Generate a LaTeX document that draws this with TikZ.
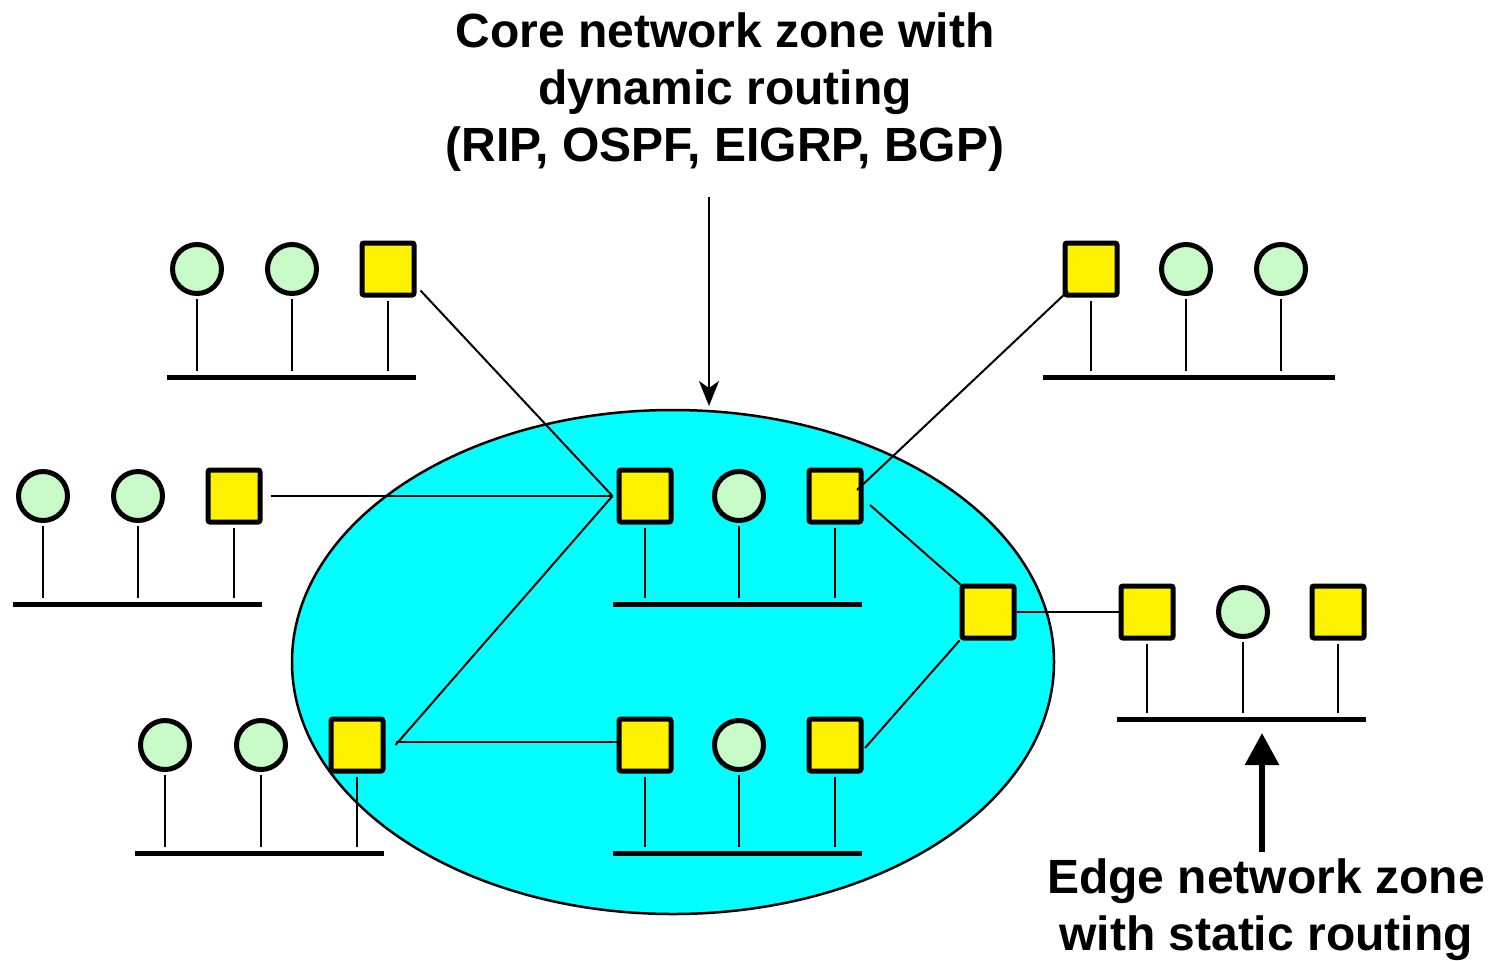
\documentclass[tikz,border=0pt]{standalone}
\usepackage{fontspec}
\setmainfont{Liberation Sans}
\usetikzlibrary{arrows.meta}
\definecolor{hostgreen}{RGB}{200,250,200}
\definecolor{zonecyan}{RGB}{0,255,255}
\begin{document}
\begin{tikzpicture}[x=0.5pt,y=-0.5pt,
  host/.style={circle,draw,line width=2.5pt,fill=hostgreen,minimum size=24.5pt,inner sep=0pt},
  router/.style={rectangle,draw,line width=2.5pt,fill=yellow,minimum size=26pt,inner sep=0pt,rounded corners=1pt},
  stem/.style={line width=1pt},
  bus/.style={line width=2.5pt},
  link/.style={line width=1pt},
  lbl/.style={font=\bfseries\fontsize{24}{28.5}\selectfont,align=center,inner sep=0pt}]
\useasboundingbox (0,0) rectangle (1494,960);
\clip (0,0) rectangle (1494,960);

% core zone
\draw[line width=1.25pt,fill=zonecyan] (673,662) ellipse [x radius=381, y radius=252];

% bus segments
\draw[bus] (167,377) coordinate (tlbus) -- (416,377);
\draw[bus] (1043,377) coordinate (trbus) -- (1335,377);
\draw[bus] (13,604) coordinate (mlbus) -- (262,604);
\draw[bus] (613,604) coordinate (ctbus) -- (862,604);
\draw[bus] (1117,719) coordinate (erbus) -- (1366,719);
\draw[bus] (135,853) coordinate (blbus) -- (384,853);
\draw[bus] (613,853) coordinate (cbbus) -- (862,853);

% stations: top left
\node[host]   (tlh1) at (197,269) {};
\node[host]   (tlh2) at (292,269) {};
\node[router] (tlr)  at (388,269) {};
% top right
\node[router] (trr)  at (1091,269) {};
\node[host]   (trh1) at (1186,269) {};
\node[host]   (trh2) at (1281,269) {};
% middle left
\node[host]   (mlh1) at (43,496) {};
\node[host]   (mlh2) at (138,496) {};
\node[router] (mlr)  at (234,496) {};
% core, upper segment
\node[router] (ctr1) at (645,496) {};
\node[host]   (cth)  at (739,496) {};
\node[router] (ctr2) at (835,496) {};
% core, right router
\node[router] (crr)  at (988,612) {};
% right edge segment
\node[router] (err1) at (1147,612) {};
\node[host]   (erh)  at (1243,612) {};
\node[router] (err2) at (1338,612) {};
% bottom left
\node[host]   (blh1) at (165,745) {};
\node[host]   (blh2) at (261,745) {};
\node[router] (blr)  at (357,745) {};
% core, lower segment
\node[router] (cbr1) at (645,745) {};
\node[host]   (cbh)  at (739,745) {};
\node[router] (cbr2) at (835,745) {};

% drops to the bus
\foreach \n/\b in {tlh1/tlbus,tlh2/tlbus,tlr/tlbus,
                   trr/trbus,trh1/trbus,trh2/trbus,
                   mlh1/mlbus,mlh2/mlbus,mlr/mlbus,
                   ctr1/ctbus,cth/ctbus,ctr2/ctbus,
                   err1/erbus,erh/erbus,err2/erbus,
                   blh1/blbus,blh2/blbus,blr/blbus,
                   cbr1/cbbus,cbh/cbbus,cbr2/cbbus}
  \draw[stem] ([yshift=-1.5pt]\n.south) -- ([yshift=3pt]\n |- \b);

% router links
\coordinate (blport) at ([xshift=5pt]blr.east);
\draw[link] ([shift={(4,-7)}]tlr.south east) -- ([xshift=-2pt]ctr1.west);
\draw[link] ([xshift=4pt]mlr.east) -- ([xshift=-2pt]ctr1.west);
\draw[link] ([xshift=-2pt]ctr1.west) -- (blport);
\draw[link] ([yshift=1.5pt]blport) -- ([yshift=1.5pt]cbr1.west);
\draw[link] ([shift={(-23,22)}]trr.center) -- ([shift={(22,-6)}]ctr2.center);
\draw[link] ([shift={(35,9)}]ctr2.center) -- ([shift={(1,1)}]crr.north west);
\draw[link] (crr.south west) -- ([shift={(30,3)}]cbr2.center);
\draw[link] (crr.east) -- (err1.west);

% labels
\node[lbl,anchor=north] (coretxt) at (725,12)
  {Core network zone with\\dynamic routing\\(RIP, OSPF, EIGRP,\ BGP)};
\node[lbl,anchor=north] (edgetxt) at (1266,858)
  {Edge network zone\\with static routing};

\coordinate (coreArrowTail) at (709,197);
\coordinate (coreArrowHead) at (709,406);
\draw[line width=1pt,-{Stealth[length=12.5pt,width=10pt,inset=3.5pt]}]
  (coreArrowTail) -- (coreArrowHead);

\coordinate (edgeArrowTail) at (1262,852);
\coordinate (edgeArrowHead) at (1262,733);
\draw[line width=3pt,-{Triangle[length=16pt,width=16.5pt]}]
  (edgeArrowTail) -- (edgeArrowHead);
\end{tikzpicture}
\end{document}
